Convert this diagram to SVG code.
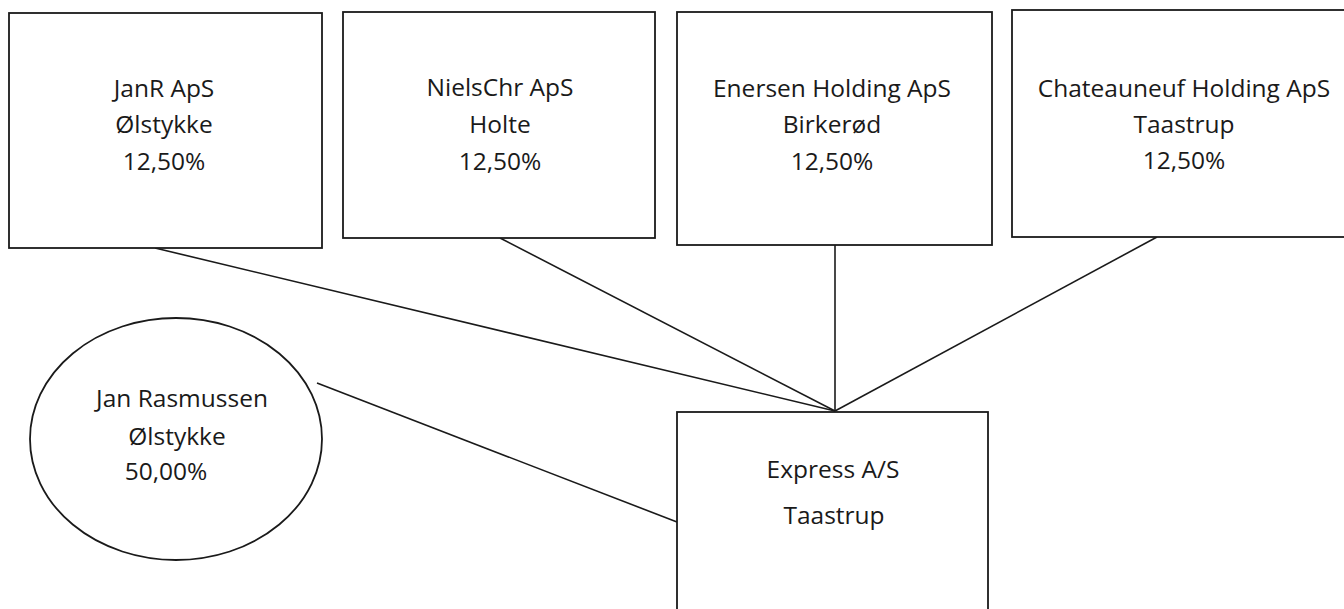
<svg xmlns="http://www.w3.org/2000/svg" width="1344" height="609" viewBox="0 0 1344 609">
<style>
.box{fill:#fff;stroke:#1a1a1a;stroke-width:1.8}
.ln{stroke:#1a1a1a;stroke-width:1.6;fill:none}
text{font-family:"Open Sans","Noto Sans","DejaVu Sans",sans-serif;font-size:24.5px;fill:#1a1a1a;text-anchor:middle}
</style>
<rect width="1344" height="609" fill="#fff"/>
<g id="connectors">
<line class="ln" x1="155" y1="248" x2="835" y2="411"/>
<line class="ln" x1="500" y1="238" x2="835" y2="411"/>
<line class="ln" x1="835" y1="245" x2="835" y2="411"/>
<line class="ln" x1="1157" y1="237" x2="835" y2="411"/>
<line class="ln" x1="317" y1="383" x2="677" y2="522"/>
</g>
<g id="janr">
<rect class="box" x="9" y="13" width="313" height="235"/>
<text x="164" y="97">JanR ApS</text>
<text x="164" y="133">Ølstykke</text>
<text x="164" y="170">12,50%</text>
</g>
<g id="nielschr">
<rect class="box" x="343" y="12" width="312" height="226"/>
<text x="500" y="96">NielsChr ApS</text>
<text x="500" y="133">Holte</text>
<text x="500" y="170">12,50%</text>
</g>
<g id="enersen">
<rect class="box" x="677" y="12" width="315" height="233"/>
<text x="832" y="97">Enersen Holding ApS</text>
<text x="832" y="133">Birkerød</text>
<text x="832" y="170">12,50%</text>
</g>
<g id="chateauneuf">
<rect class="box" x="1012" y="10" width="344" height="227"/>
<text x="1184" y="97">Chateauneuf Holding ApS</text>
<text x="1184" y="133">Taastrup</text>
<text x="1184" y="169">12,50%</text>
</g>
<g id="janrasmussen">
<ellipse class="box" cx="176" cy="439" rx="146" ry="121"/>
<text x="182" y="407">Jan Rasmussen</text>
<text x="177" y="445">Ølstykke</text>
<text x="166" y="480">50,00%</text>
</g>
<g id="express">
<rect class="box" x="677" y="412" width="311" height="220"/>
<text x="833" y="478">Express A/S</text>
<text x="834" y="524">Taastrup</text>
</g>
</svg>
